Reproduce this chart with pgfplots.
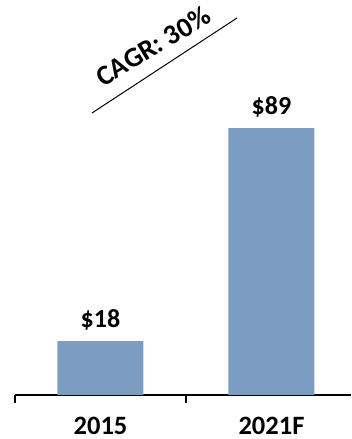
\documentclass[border=0pt]{standalone}
\usepackage{pgfplots}
\pgfplotsset{compat=1.18}
\usepackage{fontspec}
\setmainfont{Carlito}
\definecolor{barblue}{RGB}{124,157,194}
\begin{document}
\begin{tikzpicture}
\useasboundingbox (0,0) rectangle (351pt,439pt);
\begin{axis}[
  at={(15pt,44pt)}, anchor=south west,
  scale only axis,
  width=336pt, height=395pt,
  xmin=-0.5, xmax=1.465,
  ymin=0, ymax=131.67,
  axis x line=bottom,
  axis y line=none,
  x axis line style={-, line width=1.3pt, black},
  xtick={0,1},
  xticklabels={2015,2021F},
  major tick length=0pt,
  minor xtick={-0.5,0.5},
  xtick align=outside,
  minor tick length=8pt,
  minor tick style={line width=1.3pt, black},
  xticklabel style={anchor=base, inner sep=0pt, yshift=-39pt, font=\fontsize{26.5}{30}\selectfont\bfseries},
  ybar, bar width=86pt,
  clip=false,
  point meta=explicit symbolic,
  nodes near coords,
  every node near coord/.append style={anchor=base, yshift=14pt, font=\fontsize{26}{30}\selectfont\bfseries, text=black},
]
\addplot[fill=barblue, draw=none] coordinates {(0,18) [\$18] (1,89) [\$89]};
\end{axis}
\draw[line width=1pt] (92pt,326pt) -- (237pt,421pt);
\node[rotate=31, inner sep=0pt, font=\fontsize{28}{30}\selectfont\bfseries] at (153pt,393pt) {CAGR: 30\%};
\end{tikzpicture}
\end{document}
